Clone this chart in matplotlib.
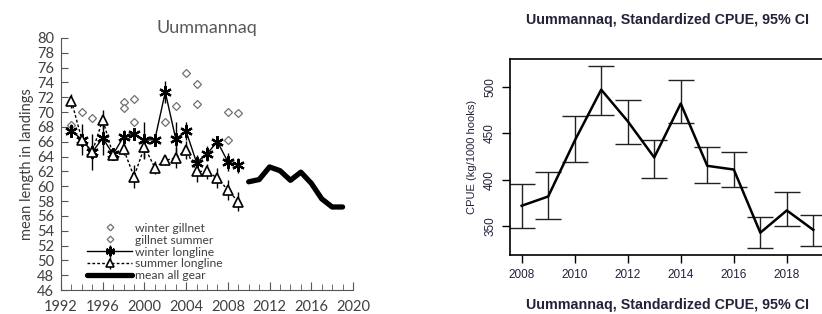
import numpy as np
import matplotlib.pyplot as plt

# left panel: mean length in landings
ll_years = np.arange(1993, 2010)
winter_ll = [67.5, 66.3, 64.6, 66.5, 64.3, 66.7, 67.0, 66.2, 66.3, 72.7, 66.4, 67.4, 63.2, 64.4, 66.0, 63.3, 62.8]
winter_ll_err = [0.9, 2.1, 2.4, 2.3, 0.6, 0.9, 0.7, 2.5, 0.6, 1.5, 2.2, 1.2, 1.0, 1.0, 0.7, 1.2, 1.0]
summer_ll = [71.5, 66.3, 64.6, 69.0, 64.2, 65.0, 61.3, 65.3, 62.5, 63.5, 63.8, 64.9, 62.0, 62.0, 61.1, 59.5, 57.9]
summer_ll_err = [1.0, 0.8, 0.9, 1.3, 0.6, 0.8, 1.5, 1.5, 0.9, 0.7, 1.3, 1.2, 1.4, 1.0, 1.3, 1.3, 1.3]

gn_winter_years = [1993, 1994, 1995, 1998, 1999, 2002, 2004, 2005, 2008, 2009]
gn_winter = [68.2, 70.0, 69.2, 71.4, 71.8, 68.7, 75.3, 73.8, 70.0, 69.9]
gn_summer_years = [1998, 1999, 2003, 2005, 2008]
gn_summer = [70.5, 68.6, 70.8, 71.1, 66.2]

mean_years = np.arange(2010, 2020)
mean_all = [60.6, 60.9, 62.6, 62.1, 60.8, 61.9, 60.4, 58.3, 57.2, 57.2]

# right panel: standardized CPUE
cpue_years = np.arange(2008, 2020)
cpue = [372, 382, 442, 497, 463, 424, 482, 415, 411, 343, 367, 346]
cpue_lo = [348, 358, 419, 470, 439, 402, 461, 396, 392, 327, 350, 329]
cpue_hi = [395, 408, 469, 522, 486, 443, 507, 435, 430, 360, 387, 362]

fig = plt.figure(figsize=(8.22, 3.14), dpi=100)

# ---- left
ax = fig.add_axes([61/822, 1-290/314, 292/822, 252/314])
lfont = 'Lato'
grey = '#404040'

h1, = ax.plot(gn_winter_years, gn_winter, ls='none', marker='D', ms=4.5, mfc='white',
              mec='#707070', mew=0.9)
h2, = ax.plot(gn_summer_years, gn_summer, ls='none', marker='D', ms=4.5, mfc='white',
              mec='#707070', mew=0.9)
h3 = ax.errorbar(ll_years, winter_ll, yerr=winter_ll_err, color='black', lw=1.0,
                 elinewidth=1.0, capsize=0, marker=(6, 2, 0), ms=9, mew=1.6, zorder=3)
h4 = ax.errorbar(ll_years, summer_ll, yerr=summer_ll_err, color='black', lw=1.0,
                 ls=(0, (2, 1.5)), elinewidth=1.0, capsize=0, marker='^', ms=7,
                 mfc='white', mec='black', mew=1.2, zorder=4)
h5, = ax.plot(mean_years, mean_all, color='black', lw=3.8, solid_joinstyle='round',
              solid_capstyle='round')

ax.set_xlim(1992, 2020)
ax.set_ylim(46, 80)
ax.set_xticks(np.arange(1992, 2021, 4))
ax.set_xticks(np.arange(1992, 2021, 1), minor=True)
ax.set_yticks(np.arange(46, 81, 2))
ax.spines['top'].set_visible(False)
ax.spines['right'].set_visible(False)
for s in ['left', 'bottom']:
    ax.spines[s].set_color('#555555')
ax.tick_params(axis='both', which='both', direction='in', colors='#555555',
               labelcolor=grey, labelsize=10.5)
ax.tick_params(axis='x', which='major', length=6, pad=7)
ax.tick_params(axis='x', which='minor', length=4)
ax.tick_params(axis='y', length=5, pad=5)
for lab in ax.get_xticklabels() + ax.get_yticklabels():
    lab.set_family(lfont)
ax.set_ylabel('mean length in landings', family=lfont, fontsize=10.5,
              color=grey, labelpad=2)
fig.text(207/822, 1-28/314, 'Uummannaq', family=lfont, fontsize=13,
         color='#595959', ha='center', va='center')

leg = ax.legend([h1, h2, h3, h4, h5],
                ['winter gillnet', 'gillnet summer', 'winter longline',
                 'summer longline', 'mean all gear'],
                loc='lower left', bbox_to_anchor=(0.07, 0.01), frameon=False,
                handlelength=3.7, handletextpad=0.25, labelspacing=0.08,
                markerscale=0.75, borderpad=0,
                prop={'family': lfont, 'size': 8.7})
for t in leg.get_texts():
    t.set_color(grey)

# ---- right
navy = '#22223a'
rfont = 'Liberation Sans'
ax2 = fig.add_axes([510/822, 1-255/314, 315/822, 196/314])
err = [np.array(cpue) - np.array(cpue_lo), np.array(cpue_hi) - np.array(cpue)]
ax2.errorbar(cpue_years, cpue, yerr=err, color='black', lw=1.8, elinewidth=1.0,
             capsize=9.5, capthick=1.0, ecolor='#222222')
ax2.set_xlim(2007.56, 2019.44)
ax2.set_ylim(319, 530)
ax2.set_xticks(np.arange(2008, 2019, 2))
ax2.set_yticks([350, 400, 450, 500])
for s in ax2.spines.values():
    s.set_linewidth(1.2)
ax2.tick_params(direction='out', length=6, width=1.0, labelsize=8.5,
                labelcolor=navy, pad=4)
ax2.set_yticklabels(['350', '400', '450', '500'], rotation=90, va='center',
                    family=rfont)
for lab in ax2.get_xticklabels():
    lab.set_family(rfont)
ax2.set_ylabel('CPUE (kg/1000 hooks)', family=rfont, fontsize=8, color=navy,
               labelpad=5)

ttl = 'Uummannaq, Standardized CPUE, 95% CI'
fig.text(667/822, 1-20/314, ttl, family=rfont, fontsize=10.3, weight='bold',
         color=navy, ha='center', va='center')
fig.text(667/822, 1-305/314, ttl, family=rfont, fontsize=10.3, weight='bold',
         color=navy, ha='center', va='center')

fig.savefig('out.png', dpi=100)
